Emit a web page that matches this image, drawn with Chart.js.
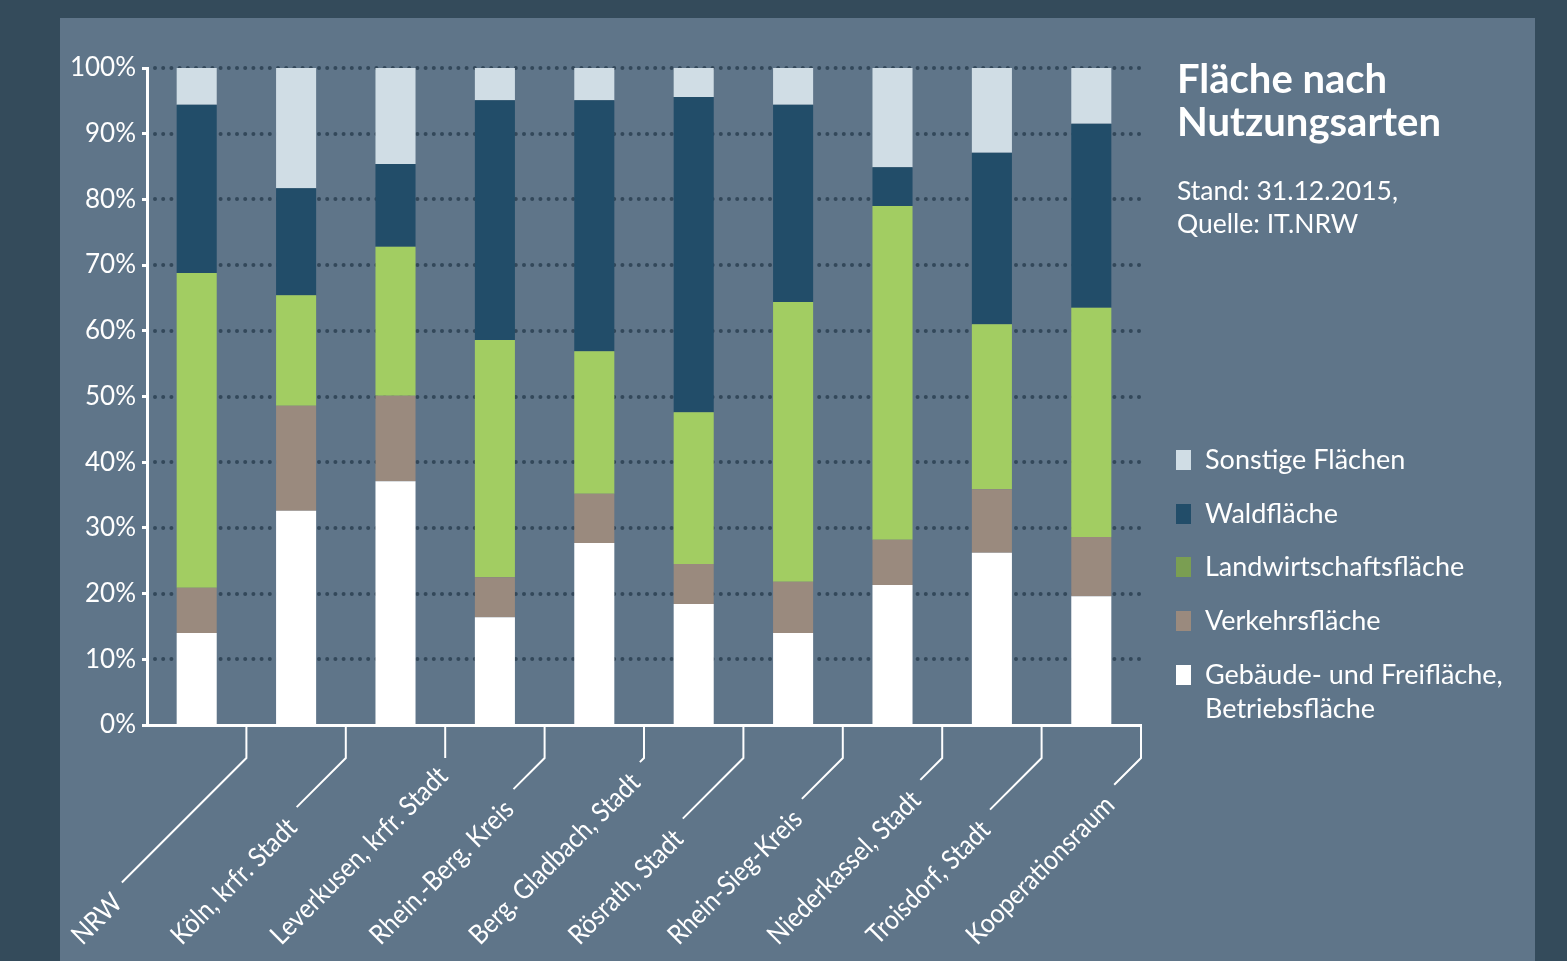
<!DOCTYPE html>
<html lang="de">
<head>
<meta charset="utf-8">
<title>Fläche nach Nutzungsarten</title>
<script src="https://cdn.jsdelivr.net/npm/chart.js@4.4.1/dist/chart.umd.min.js"></script>
<style>
  html, body { margin: 0; padding: 0; }
  body { width: 1567px; height: 961px; background: #344b5b; position: relative; overflow: hidden; font-family: Lato, 'Open Sans', sans-serif; color: #fff; }
  #panel { position: absolute; left: 60px; top: 18px; width: 1475px; height: 943px; background: #5f7589; }
  #wrap { position: absolute; left: 0; top: 0; width: 1567px; height: 961px; }
  .title { position: absolute; left: 1177px; top: 57px; font-size: 40px; font-weight: 700; line-height: 43px; }
  .sub { position: absolute; left: 1177px; top: 174px; font-size: 26.5px; line-height: 33px; }
  .leg { position: absolute; left: 1176px; font-size: 27px; line-height: 34px; }
  .leg i { position: absolute; left: 0; top: 8px; width: 15px; height: 20px; }
  .leg span { position: absolute; left: 29px; top: 0; white-space: nowrap; }
</style>
</head>
<body>
<div id="panel"></div>
<div id="wrap"><canvas id="chart" width="1567" height="961"></canvas></div>
<div class="title">Fläche nach<br>Nutzungsarten</div>
<div class="sub">Stand: 31.12.2015,<br>Quelle: IT.NRW</div>
<div id="legend"></div>
<script>
// Kategorien
const categories = ['NRW', 'Köln, krfr. Stadt', 'Leverkusen, krfr. Stadt', 'Rhein.-Berg. Kreis', 'Berg. Gladbach, Stadt',
  'Rösrath, Stadt', 'Rhein-Sieg-Kreis', 'Niederkassel, Stadt', 'Troisdorf, Stadt', 'Kooperationsraum'];

// Anteile in % (von unten nach oben gestapelt)
const gebaeude = [14.0, 32.6, 37.1, 16.4, 27.7, 18.4, 14.0, 21.3, 26.2, 19.6];
const verkehr = [6.9, 16.0, 13.0, 6.1, 7.5, 6.1, 7.8, 6.9, 9.7, 9.0];
const landwirtschaft = [47.9, 16.8, 22.7, 36.1, 21.7, 23.1, 42.6, 50.8, 25.1, 34.9];
const wald = [25.6, 16.3, 12.6, 36.5, 38.2, 48.0, 30.0, 5.9, 26.1, 28.0];
const sonstige = [5.6, 18.3, 14.6, 4.9, 4.9, 4.4, 5.6, 15.1, 12.9, 8.5];

const seriesNames = ['Gebäude- und Freifläche, Betriebsfläche', 'Verkehrsfläche', 'Landwirtschaftsfläche', 'Waldfläche', 'Sonstige Flächen'];
const barColors = ['#ffffff', '#9a8a7e', '#a2cd62', '#224d69', '#d0dde5'];
const legendColors = ['#ffffff', '#9a8a7e', '#7a9e52', '#224d69', '#d0dde5'];
const yTicks = [0, 10, 20, 30, 40, 50, 60, 70, 80, 90, 100];

const FONT = 'Lato, "Open Sans", sans-serif';

// Legende (HTML, Reihenfolge oben: Sonstige)
const legendEl = document.getElementById('legend');
[4, 3, 2, 1, 0].forEach((idx, row) => {
  const d = document.createElement('div');
  d.className = 'leg';
  d.style.top = (442 + row * 53.7) + 'px';
  const name = idx === 0 ? 'Gebäude- und Freifläche,<br>Betriebsfläche' : seriesNames[idx];
  d.innerHTML = `<i style="background:${legendColors[idx]}"></i><span>${name}</span>`;
  legendEl.appendChild(d);
});

// gepunktete Gitterlinien
const dotGrid = {
  id: 'dotGrid',
  beforeDatasetsDraw(chart) {
    const { ctx, chartArea, scales: { y } } = chart;
    ctx.save();
    ctx.strokeStyle = '#33485a';
    ctx.lineWidth = 4;
    ctx.lineCap = 'round';
    ctx.setLineDash([0, 8.2]);
    yTicks.forEach(v => {
      if (v === 0) return;
      const py = Math.round(y.getPixelForValue(v));
      ctx.beginPath();
      ctx.moveTo(chartArea.left + 8, py);
      ctx.lineTo(chartArea.right, py);
      ctx.stroke();
    });
    ctx.restore();
  }
};

// schräge Beschriftung mit Führungslinien (Schrift leicht schmaler gestaucht)
const slantLabels = {
  id: 'slantLabels',
  afterDraw(chart) {
    const { ctx, chartArea, scales: { x } } = chart;
    const step = (chartArea.right - chartArea.left) / categories.length;
    const y0 = chartArea.bottom + 1, y1 = chartArea.bottom + 33;
    const squeeze = 0.9;
    ctx.save();
    ctx.font = '27px ' + FONT;
    ctx.fillStyle = '#fff';
    ctx.strokeStyle = '#fff';
    ctx.lineWidth = 2;
    categories.forEach((lab, i) => {
      const xb = x.getPixelForValue(i) + step / 2;
      const w = ctx.measureText(lab).width * squeeze;
      const sx = xb - 164, sy = 946;
      const ex = sx + w * Math.SQRT1_2, ey = sy - w * Math.SQRT1_2;
      const t = ((xb - ex) + (ey - y1)) / 2 - 10;
      ctx.beginPath();
      ctx.moveTo(xb, y0);
      ctx.lineTo(xb, y1);
      if (t > 0) ctx.lineTo(xb - t, y1 + t);
      ctx.stroke();
      ctx.save();
      ctx.translate(sx, sy);
      ctx.rotate(-Math.PI / 4);
      ctx.scale(squeeze, 1);
      ctx.textAlign = 'left';
      ctx.textBaseline = 'alphabetic';
      ctx.fillText(lab, 0, 0);
      ctx.restore();
    });
    ctx.restore();
  }
};

const seriesData = [gebaeude, verkehr, landwirtschaft, wald, sonstige];

new Chart(document.getElementById('chart'), {
  type: 'bar',
  data: {
    labels: categories,
    datasets: seriesData.map((d, i) => ({
      label: seriesNames[i],
      data: d,
      backgroundColor: barColors[i],
      borderWidth: 0,
      barPercentage: 0.403,
      categoryPercentage: 1
    }))
  },
  options: {
    responsive: false,
    animation: false,
    layout: { padding: { left: 0, right: 426, top: 68, bottom: 0 } },
    plugins: { legend: { display: false }, tooltip: { enabled: false } },
    scales: {
      x: {
        stacked: true,
        grid: { display: false },
        border: { color: '#fff', width: 3 },
        ticks: { display: false },
        afterFit: s => { s.height = 236; }
      },
      y: {
        stacked: true,
        min: 0, max: 100,
        afterFit: s => { s.width = 147; },
        afterBuildTicks: s => { s.ticks = yTicks.map(v => ({ value: v })); },
        grid: { drawOnChartArea: false, color: 'transparent', tickColor: '#fff', tickLength: 5, tickWidth: 3 },
        border: { color: '#fff', width: 3 },
        ticks: { color: '#fff', padding: 6, font: { family: FONT, size: 26 }, callback: v => v + '%' }
      }
    }
  },
  plugins: [dotGrid, slantLabels]
});
</script>
</body>
</html>
